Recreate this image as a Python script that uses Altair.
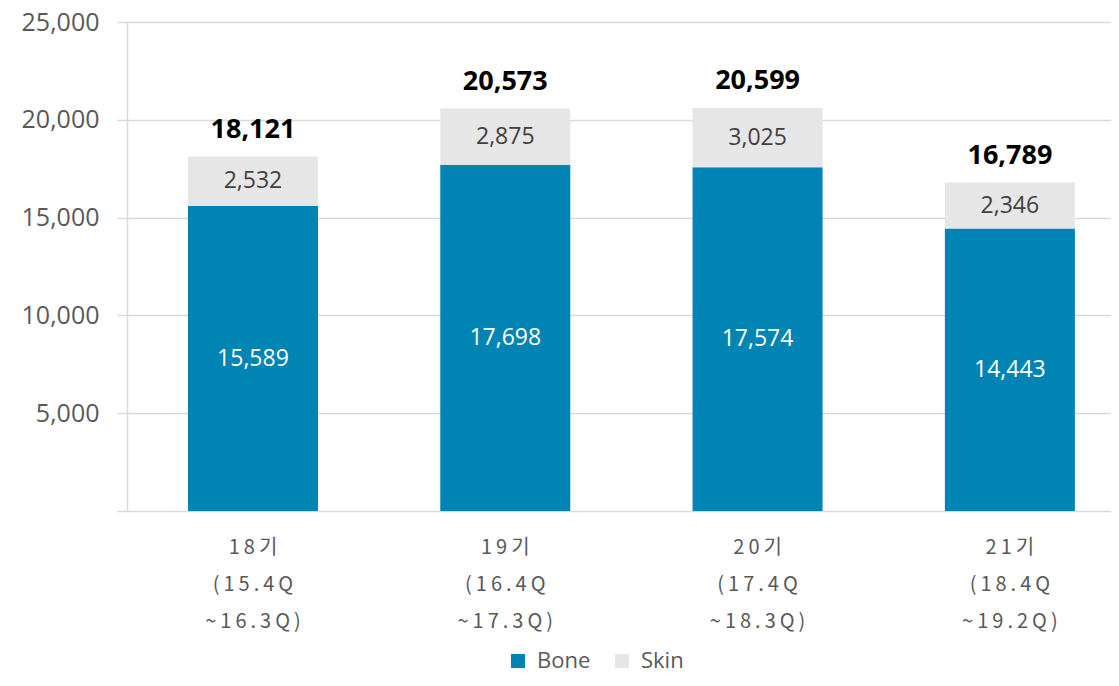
import altair as alt
import pandas as pd

periods = ["18기", "19기", "20기", "21기"]
range_start = ["(15.4Q", "(16.4Q", "(17.4Q", "(18.4Q"]
range_end = ["~16.3Q)", "~17.3Q)", "~18.3Q)", "~19.2Q)"]
bone = [15589, 17698, 17574, 14443]
skin = [2532, 2875, 3025, 2346]
series = ["Bone", "Skin"]
colors = ["#0084B4", "#E6E6E6"]
y_ticks = [0, 5000, 10000, 15000, 20000, 25000]


def spaced(s):
    return "\u2009".join(s)


labels = ["|".join(spaced(t) for t in (p, a, b))
          for p, a, b in zip(periods, range_start, range_end)]

rows = []
for i, lab in enumerate(labels):
    rows.append({"period": lab, "series": "Bone", "value": bone[i], "ord": 0})
    rows.append({"period": lab, "series": "Skin", "value": skin[i], "ord": 1})
df = pd.DataFrame(rows)

NUM_FONT = "Open Sans"
KR_FONT = "Noto Sans CJK KR"

x = alt.X(
    "period:N",
    sort=labels,
    title=None,
    scale=alt.Scale(paddingInner=0.4847, paddingOuter=0.1924, align=0.628),
    axis=alt.Axis(
        labelExpr="split(datum.label, '|')",
        labelAngle=0,
        ticks=False,
        domain=False,
        labelFont=KR_FONT,
        labelFontSize=20,
        labelColor="#595959",
        labelLineHeight=37,
        labelPadding=26,
        labelBaseline="top",
    ),
)

y = alt.Y(
    "value:Q",
    stack="zero",
    title=None,
    scale=alt.Scale(domain=[0, 25000], nice=False),
    axis=alt.Axis(
        values=y_ticks,
        labelExpr="datum.value == 0 ? '' : format(datum.value, ',')",
        labelFont=NUM_FONT,
        labelFontSize=25,
        labelColor="#595959",
        labelPadding=18,
        tickSize=10,
        tickColor="#d9d9d9",
        tickWidth=1.5,
        gridColor="#d9d9d9",
        gridWidth=1.5,
        domainColor="#d9d9d9",
        domainWidth=1.5,
    ),
)

base = alt.Chart(df)

bars = base.mark_bar().encode(
    x=x,
    y=y,
    color=alt.Color(
        "series:N",
        scale=alt.Scale(domain=series, range=colors),
        legend=alt.Legend(
            title=None,
            orient="none",
            legendX=380,
            legendY=628,
            direction="horizontal",
            symbolType="square",
            symbolSize=196,
            symbolStrokeWidth=0,
            labelFont=NUM_FONT,
            labelFontSize=22,
            labelColor="#595959",
            labelOffset=8,
            columnPadding=20,
        ),
    ),
    order=alt.Order("ord:Q"),
)

seg_labels = (
    base.transform_stack(
        stack="value", groupby=["period"], as_=["v0", "v1"],
        sort=[alt.SortField("ord", order="ascending")],
    )
    .transform_calculate(mid="(datum.v0 + datum.v1) / 2")
    .mark_text(font=NUM_FONT, fontSize=23, baseline="middle")
    .encode(
        x=alt.X("period:N", sort=labels),
        y=alt.Y("mid:Q"),
        text=alt.Text("value:Q", format=","),
        color=alt.condition(alt.datum.series == "Bone",
                            alt.value("#ffffff"), alt.value("#404040")),
    )
)

totals = (
    base.transform_aggregate(total="sum(value)", groupby=["period"])
    .mark_text(font=NUM_FONT, fontSize=27, fontWeight="bold",
               baseline="alphabetic", dy=-19, color="#000000")
    .encode(
        x=alt.X("period:N", sort=labels),
        y=alt.Y("total:Q"),
        text=alt.Text("total:Q", format=","),
    )
)

chart = (
    alt.layer(bars, seg_labels, totals)
    .properties(
        width=984,
        height=489,
        autosize=alt.AutoSizeParams(type="none"),
        padding={"left": 119, "top": 14, "right": 0, "bottom": 163},
    )
    .configure_view(stroke=None)
)

chart.save("out.html", embed_options={"renderer": "svg", "actions": False})
